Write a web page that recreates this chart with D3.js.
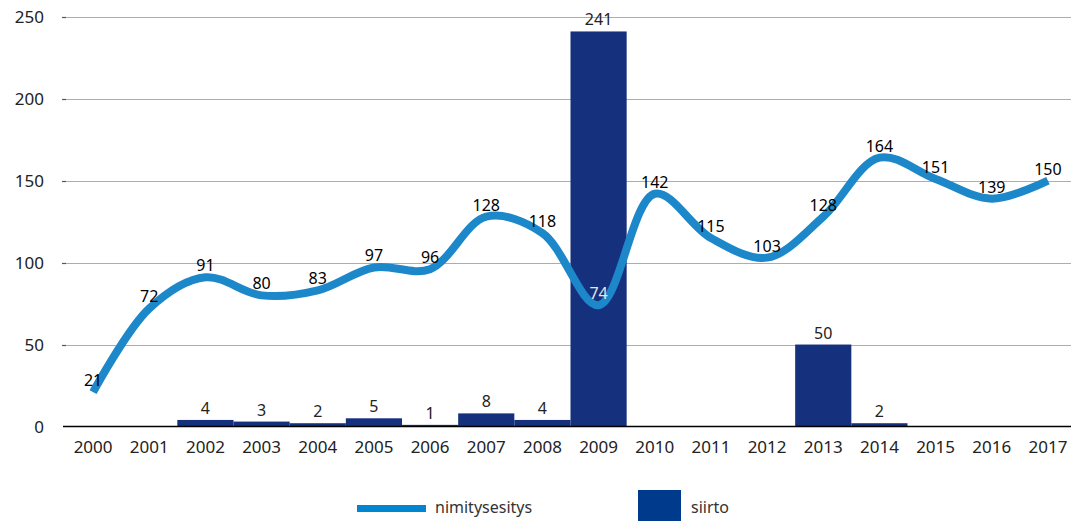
<!DOCTYPE html>
<html><head><meta charset="utf-8">
<script src="https://cdn.jsdelivr.net/npm/d3@7"></script>
<style>
html,body{margin:0;padding:0;background:#fff;}
svg{display:block;font-family:"Noto Sans",sans-serif;}
</style></head>
<body>
<svg id="c" width="1071" height="521"></svg>
<script>
const years = ["2000","2001","2002","2003","2004","2005","2006","2007","2008","2009","2010","2011","2012","2013","2014","2015","2016","2017"];
const nimitysesitys = [21,72,91,80,83,97,96,128,118,74,142,115,103,128,164,151,139,150];
const siirto = [0,0,4,3,2,5,1,8,4,241,0,0,0,50,2,0,0,0];
const yTicks = [0,50,100,150,200,250];
const seriesNames = ["nimitysesitys","siirto"];

const svg = d3.select("#c");
const x = d3.scaleBand().domain(years).range([65,1076]).padding(0);
const y = d3.scaleLinear().domain([0,250]).range([426.5,16.7]);

// gridlines
svg.append("g").selectAll("line").data(yTicks.filter(d=>d>0)).join("line")
  .attr("x1",63).attr("x2",1071)
  .attr("y1",d=>Math.round(y(d))+0.5).attr("y2",d=>Math.round(y(d))+0.5)
  .attr("stroke","#b3aba7").attr("stroke-width",1.2);
svg.append("g").selectAll("line").data(yTicks.filter(d=>d>0)).join("line")
  .attr("x1",62).attr("x2",66)
  .attr("y1",d=>Math.round(y(d))+0.5).attr("y2",d=>Math.round(y(d))+0.5)
  .attr("stroke","#555").attr("stroke-width",1.2);

// y labels
svg.append("g").selectAll("text").data(yTicks).join("text")
  .attr("x",44).attr("y",d=>y(d)+6)
  .attr("text-anchor","end").attr("font-size",17).attr("fill","#222")
  .text(d=>d);

// bars
svg.append("g").selectAll("rect").data(years.map((yr,i)=>({yr,v:siirto[i]})).filter(d=>d.v>0)).join("rect")
  .attr("x",d=>x(d.yr)).attr("width",x.bandwidth())
  .attr("y",d=>y(d.v)).attr("height",d=>y(0)-y(d.v))
  .attr("fill","#15317e");

// axis line
svg.append("line").attr("x1",63).attr("x2",1071).attr("y1",426.5).attr("y2",426.5)
  .attr("stroke","#000").attr("stroke-width",1.3);

// x labels
svg.append("g").selectAll("text").data(years).join("text")
  .attr("x",d=>x(d)+x.bandwidth()/2).attr("y",453)
  .attr("text-anchor","middle").attr("font-size",17).attr("fill","#222")
  .text(d=>d);

// line
const pts = years.map((yr,i)=>[x(yr)+x.bandwidth()/2, y(nimitysesitys[i])]);
svg.append("path").attr("d",d3.line().curve(d3.curveCatmullRom.alpha(0.5))(pts))
  .attr("fill","none").attr("stroke","#1c87c9").attr("stroke-width",8);

// bar labels
svg.append("g").selectAll("text").data(years.map((yr,i)=>({yr,v:siirto[i]})).filter(d=>d.v>0)).join("text")
  .attr("x",d=>x(d.yr)+x.bandwidth()/2).attr("y",d=>y(d.v)-6)
  .attr("text-anchor","middle").attr("font-size",16).attr("fill","#222")
  .text(d=>d.v);

// line labels
svg.append("g").selectAll("text").data(years.map((yr,i)=>({yr,v:nimitysesitys[i]}))).join("text")
  .attr("x",d=>x(d.yr)+x.bandwidth()/2).attr("y",d=>y(d.v)-6)
  .attr("text-anchor","middle").attr("font-size",16)
  .attr("fill",d=>d.yr==="2009"?"#e6e6e6":"#000")
  .text(d=>d.v);

// legend
const lg = svg.append("g");
lg.append("rect").attr("x",357).attr("y",505).attr("width",69).attr("height",7).attr("fill","#0085d0");
lg.append("text").attr("x",435).attr("y",513).attr("font-size",16).attr("fill","#333").text(seriesNames[0]);
lg.append("rect").attr("x",638).attr("y",490).attr("width",43).attr("height",31).attr("fill","#003a8c");
lg.append("text").attr("x",691).attr("y",513).attr("font-size",16).attr("fill","#333").text(seriesNames[1]);
</script>
</body></html>
